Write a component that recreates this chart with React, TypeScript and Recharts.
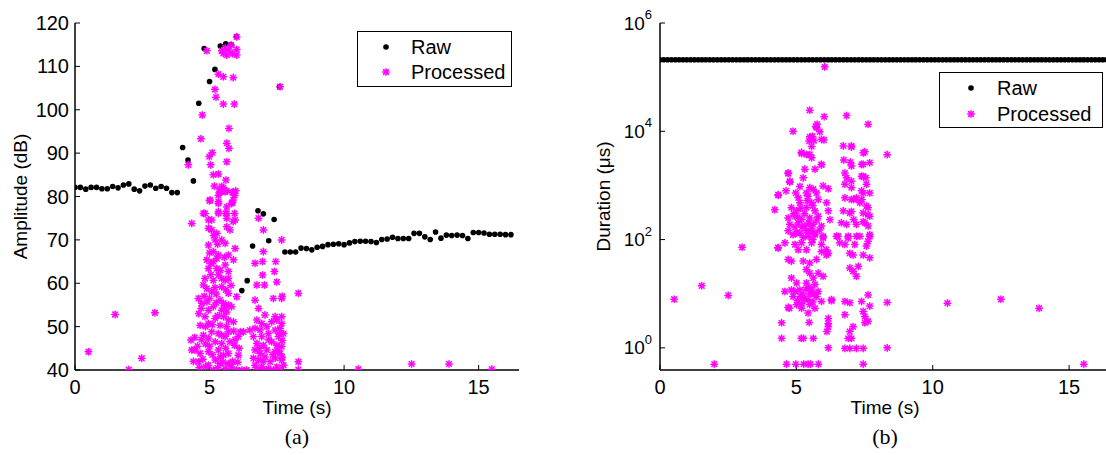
import { Label, Legend, Scatter, ScatterChart, XAxis, YAxis } from "recharts"

// (a) amplitude, [time s, amplitude dB]
const RAW_AMPLITUDE: [number, number][] = [
  [0, 82.1], [0.2, 82.1], [0.4, 81.7], [0.6, 82.1], [0.8, 82.1], [1.0, 81.8], [1.2, 81.8],
  [1.4, 82.3], [1.6, 82.0], [1.8, 82.65], [2.0, 82.9], [2.2, 81.7], [2.4, 81.3], [2.6, 82.4],
  [2.8, 82.65], [3.0, 81.9], [3.2, 82.3], [3.4, 81.9], [3.6, 80.9], [3.8, 80.9],
  [4.0, 91.3], [4.2, 88.4], [4.4, 83.6], [4.6, 101.5], [4.8, 114.1], [5.0, 106.5], [5.2, 109.3],
  [5.4, 114.7], [5.6, 115.2], [5.8, 115.0], [6.0, 116.9], [6.2, 58.3], [6.4, 60.6], [6.6, 68.6],
  [6.8, 76.7], [7.0, 76.0], [7.2, 69.8], [7.4, 74.7], [7.6, 105.3], [7.8, 67.2], [8.0, 67.2],
  [8.2, 67.2], [8.4, 68.1], [8.6, 68.0], [8.8, 67.7], [9.0, 68.3], [9.2, 68.5], [9.4, 68.9],
  [9.6, 69.0], [9.8, 69.1], [10.0, 68.9], [10.2, 69.3], [10.4, 69.6], [10.6, 69.7], [10.8, 69.7],
  [11.0, 69.6], [11.2, 69.4], [11.4, 70.1], [11.6, 70.2], [11.8, 70.6], [12.0, 70.3], [12.2, 70.3],
  [12.4, 70.3], [12.6, 71.5], [12.8, 71.5], [13.0, 70.7], [13.2, 70.1], [13.4, 71.8], [13.6, 70.4],
  [13.8, 71.1], [14.0, 71.0], [14.2, 71.1], [14.4, 71.0], [14.6, 70.3], [14.8, 71.7], [15.0, 71.7],
  [15.2, 71.6], [15.4, 71.3], [15.6, 71.3], [15.8, 71.3], [16.0, 71.2], [16.2, 71.2],
]

const PROCESSED_AMPLITUDE: [number, number][] = [
  [0.5, 44.2], [1.49, 52.8], [2.0, 40.1], [2.48, 42.7], [2.97, 53.2], [8.3, 57.7], [8.3, 41.9],
  [8.3, 40.1], [10.53, 40.2], [12.51, 41.4], [13.9, 41.4], [15.49, 40.2], [7.62, 105.3], [6.01, 116.8],
  [4.9, 113.6], [5.45, 113.6], [5.58, 114.2], [5.72, 113.8], [5.8, 114.9], [6.01, 113.9], [5.51, 113.0],
  [5.64, 112.6], [5.85, 112.9], [6.01, 112.6], [5.33, 108.2], [5.51, 107.6], [5.88, 107.4], [5.2, 104.7],
  [5.24, 102.9], [5.51, 101.3], [5.92, 101.3], [4.73, 98.8], [5.72, 95.7], [4.68, 93.3], [5.64, 92.3],
  [5.72, 91.1], [5.1, 90.1], [4.99, 89.2], [5.64, 88.0], [4.21, 87.3], [5.04, 87.3], [5.33, 85.2],
  [5.61, 83.8], [5.18, 82.4], [5.51, 82.0], [5.45, 81.1], [5.64, 81.3], [5.85, 80.9], [5.97, 81.3],
  [5.02, 79.2], [5.33, 80.3], [5.88, 79.2], [5.82, 78.4], [4.34, 73.8], [4.77, 76.1], [4.96, 74.6],
  [5.33, 76.1], [5.64, 76.1], [5.64, 75.0], [5.88, 74.2], [5.33, 78.8], [5.64, 77.6], [5.45, 82.3],
  [5.14, 85.0], [5.39, 81.5], [5.39, 81.1], [5.58, 81.1], [5.89, 81.1], [5.93, 80.3], [5.0, 79.0],
  [5.33, 78.4], [5.85, 78.6], [4.83, 76.1], [5.08, 74.6], [5.33, 76.5], [5.6, 76.1], [5.93, 76.1],
  [5.95, 74.6], [4.96, 72.7], [5.08, 72.3], [5.27, 71.5], [5.64, 73.0], [5.76, 72.3], [4.96, 68.8],
  [5.21, 70.0], [5.45, 70.0], [5.58, 69.2], [5.95, 68.0], [5.14, 67.3], [5.33, 66.5], [5.7, 66.5],
  [4.9, 65.4], [5.14, 65.0], [5.27, 65.7], [4.96, 63.4], [5.27, 63.4], [5.58, 64.2], [5.7, 62.7],
  [5.89, 65.4], [4.83, 61.1], [5.14, 60.7], [5.45, 61.1], [5.58, 60.7], [5.7, 61.1], [5.33, 61.9],
  [4.77, 59.6], [4.9, 58.8], [5.08, 58.0], [5.45, 59.2], [5.7, 57.7], [6.01, 56.9], [4.59, 56.5],
  [4.71, 55.4], [4.9, 55.7], [5.39, 56.1], [5.52, 55.4], [5.7, 55.0], [4.69, 54.2], [4.96, 53.8],
  [5.14, 54.6], [5.45, 53.8], [5.64, 53.4], [5.82, 54.6], [4.83, 52.3], [5.21, 51.9], [5.52, 52.3],
  [5.7, 51.5], [4.65, 50.3], [4.96, 50.7], [5.39, 50.3], [5.64, 50.0], [5.89, 51.1], [5.08, 48.8],
  [5.33, 48.4], [5.7, 48.8], [4.77, 48.0], [5.58, 47.7], [6.14, 48.8], [4.31, 46.9], [4.96, 47.3],
  [5.21, 46.5], [5.45, 46.1], [5.76, 46.5], [5.93, 45.7], [4.46, 44.6], [4.65, 43.8], [4.96, 44.2],
  [5.33, 44.6], [5.52, 43.4], [5.7, 43.8], [6.07, 43.4], [4.59, 41.9], [4.96, 41.1], [5.21, 42.3],
  [5.39, 41.5], [5.7, 41.5], [5.82, 40.7], [6.2, 40.0], [5.58, 40.3], [5.14, 40.0], [6.01, 40.0],
  [4.34, 44.6], [4.8, 57.0], [5.0, 56.5], [5.25, 57.5], [5.6, 58.5], [5.05, 62.0], [5.4, 63.0],
  [5.55, 66.0], [5.0, 67.0], [5.3, 69.0], [5.15, 71.0], [4.85, 50.0], [5.1, 50.5], [5.3, 52.5],
  [5.45, 48.0], [5.9, 49.0], [5.0, 45.5], [5.1, 43.5], [5.4, 43.0], [5.6, 45.0], [5.85, 42.0],
  [4.75, 42.5], [5.3, 40.5], [5.5, 41.8], [4.85, 46.0], [5.55, 54.5], [5.25, 55.5], [4.6, 53.0],
  [5.8, 59.5], [5.2, 59.0], [5.05, 64.5], [4.45, 47.5], [4.55, 45.5], [4.7, 47.0], [4.4, 42.0],
  [4.62, 40.5], [4.85, 40.8], [6.1, 45.0], [5.95, 47.0], [6.05, 41.8],
  [6.82, 75.0], [7.0, 72.3], [7.68, 70.0], [7.0, 67.3], [6.69, 64.6], [6.97, 65.0], [7.46, 65.0],
  [7.41, 62.7], [6.97, 61.9], [7.5, 60.3], [6.76, 59.6], [7.04, 59.6], [6.69, 56.1], [7.37, 56.5],
  [7.68, 56.5], [6.82, 54.2], [7.06, 52.7], [7.44, 52.3], [7.68, 52.3], [6.76, 51.5], [6.94, 50.7],
  [7.31, 51.1], [7.5, 51.5], [7.68, 50.7], [6.69, 49.6], [6.88, 49.2], [7.13, 50.0], [7.44, 49.2],
  [7.62, 49.6], [6.63, 47.7], [6.94, 47.7], [7.19, 48.4], [7.56, 47.7], [7.75, 48.4], [6.76, 46.1],
  [7.0, 45.7], [7.31, 46.5], [7.5, 45.7], [7.68, 45.4], [6.69, 44.6], [6.88, 43.8], [7.13, 44.6],
  [7.44, 44.2], [7.62, 43.8], [6.63, 42.7], [6.82, 42.3], [7.06, 43.0], [7.25, 41.9], [7.44, 42.7],
  [7.68, 42.3], [6.69, 41.1], [6.94, 40.7], [7.19, 40.3], [7.5, 40.7], [7.75, 41.1], [6.38, 40.0],
  [6.76, 40.0], [7.06, 40.0], [7.37, 40.0], [7.62, 40.0], [6.26, 48.8], [6.07, 47.7], [6.5, 49.2],
  [7.7, 57.0], [7.6, 48.4], [7.7, 46.8], [7.55, 44.5], [7.35, 43.5], [7.0, 42.0], [6.85, 45.0],
  [7.2, 47.0], [7.7, 43.0],
]

// (b) duration, [time s, duration us]
const RAW_DURATION_US = 2.1e5
const RAW_DURATION_TIME = [
  0, 0.14, 0.28, 0.42, 0.56, 0.7, 0.84, 0.98, 1.12, 1.26, 1.4, 1.54, 1.68, 1.82, 1.96, 2.1, 2.24,
  2.38, 2.52, 2.66, 2.8, 2.94, 3.08, 3.22, 3.36, 3.5, 3.64, 3.78, 3.92, 4.06, 4.2, 4.34, 4.48, 4.62,
  4.76, 4.9, 5.04, 5.18, 5.32, 5.46, 5.6, 5.74, 5.88, 6.02, 6.16, 6.3, 6.44, 6.58, 6.72, 6.86, 7.0,
  7.14, 7.28, 7.42, 7.56, 7.7, 7.84, 7.98, 8.12, 8.26, 8.4, 8.54, 8.68, 8.82, 8.96, 9.1, 9.24, 9.38,
  9.52, 9.66, 9.8, 9.94, 10.08, 10.22, 10.36, 10.5, 10.64, 10.78, 10.92, 11.06, 11.2, 11.34, 11.48,
  11.62, 11.76, 11.9, 12.04, 12.18, 12.32, 12.46, 12.6, 12.74, 12.88, 13.02, 13.16, 13.3, 13.44,
  13.58, 13.72, 13.86, 14.0, 14.14, 14.28, 14.42, 14.56, 14.7, 14.84, 14.98, 15.12, 15.26, 15.4,
  15.54, 15.68, 15.82, 15.96, 16.1, 16.24, 16.38,
]

const PROCESSED_DURATION: [number, number][] = [
  [0.52, 7.9], [1.53, 14], [2.5, 9.3], [3.01, 72], [1.99, 0.5], [4.64, 0.5], [4.98, 0.5], [5.27, 0.5],
  [5.43, 0.5], [5.52, 0.5], [5.81, 0.5], [4.33, 70], [4.46, 2.9], [4.46, 1.5], [5.18, 1.5], [5.26, 1.5],
  [5.62, 1.5], [5.47, 2.95], [6.17, 3.5], [6.17, 2.8], [6.17, 2.45], [6.12, 2.0], [6.17, 1.0],
  [6.29, 7.4], [4.7, 5.6], [6.1, 65], [6.1, 52], [7.45, 0.5], [8.33, 6.9], [8.33, 1.0], [10.54, 6.7],
  [12.5, 7.9], [13.9, 5.4], [15.54, 0.5], [6.04, 1.55e5],
  [7.63, 13500], [8.33, 3700], [7.02, 5370], [7.45, 4000], [7.45, 2450], [7.69, 2630], [7.02, 2290],
  [7.45, 1480], [7.69, 724], [7.45, 724], [7.02, 1200], [7.1, 550], [7.4, 550], [7.63, 389],
  [7.45, 309], [7.69, 269], [7.02, 331], [7.1, 234], [7.45, 214], [7.63, 178],
  [5.49, 24500], [6.02, 18600], [6.84, 19500], [4.88, 10000], [5.74, 11700], [5.49, 7900],
  [5.92, 7100], [5.19, 3890], [5.49, 3720], [5.92, 2400], [4.7, 1660], [4.33, 676], [4.21, 355],
  [4.76, 1150], [6.72, 5370], [7.02, 5130],
  [5.76, 13500], [5.71, 12300], [5.86, 9800], [5.59, 8100], [5.47, 6600], [5.64, 6760], [6.01, 6900],
  [5.56, 5250], [7.51, 4170], [5.19, 4070], [5.37, 3720], [5.56, 3240], [6.74, 2950], [6.98, 2690],
  [7.39, 2450], [5.92, 2450], [5.68, 2000], [5.31, 2000], [4.7, 1700], [6.78, 1700], [6.84, 1380],
  [7.39, 1480], [7.55, 1380], [5.25, 1380], [4.76, 1200], [6.78, 1050], [7.02, 910], [7.57, 1050],
  [5.13, 955], [5.49, 910], [5.62, 850], [5.98, 980], [6.17, 870], [4.62, 794], [4.98, 724],
  [5.37, 724], [5.74, 724], [7.39, 794], [4.34, 660], [5.07, 590], [5.43, 630], [5.8, 550],
  [6.78, 590], [7.02, 550], [7.2, 590], [5.13, 480], [5.56, 480], [6.11, 480], [7.33, 480],
  [7.57, 417], [4.82, 389], [5.01, 339], [5.37, 389], [5.68, 339], [6.17, 339], [6.72, 339],
  [6.96, 309], [4.7, 251], [4.95, 269], [5.19, 234], [5.49, 251], [5.8, 269], [6.23, 234], [7.63, 288],
  [4.76, 191], [5.07, 204], [5.31, 178], [5.62, 191], [5.92, 178], [6.65, 204], [6.84, 191],
  [7.2, 191], [7.51, 204], [4.7, 145], [5.01, 132], [5.37, 145], [5.68, 123], [5.98, 115],
  [6.53, 115], [6.9, 107], [7.2, 115], [7.69, 115],
  [4.88, 123], [5.13, 132], [5.43, 115], [5.68, 132], [5.98, 107], [6.47, 115], [6.9, 115],
  [7.33, 115], [7.69, 123], [4.58, 87], [4.95, 81], [5.19, 87], [5.56, 87], [5.92, 81], [6.59, 87],
  [6.78, 81], [7.14, 81], [7.57, 76], [7.63, 93], [4.33, 71], [5.07, 65], [5.37, 65], [5.92, 60],
  [6.96, 56], [7.08, 52], [7.45, 52], [7.69, 46], [4.7, 43], [4.82, 40], [6.17, 56], [5.25, 40],
  [5.49, 37], [5.74, 43], [5.37, 28], [5.49, 24], [5.8, 24], [6.96, 30], [7.08, 26], [7.27, 32],
  [5.98, 21], [5.62, 19.5], [7.2, 21], [4.82, 19.5], [5.01, 15.8], [5.37, 15.8], [5.68, 14.8],
  [4.58, 11], [4.82, 11.7], [5.13, 11.7], [5.56, 11.7], [5.8, 11], [4.88, 8.9], [5.25, 9.5],
  [5.43, 7.8], [5.74, 8.9], [5.92, 7.2], [6.29, 7.8], [7.63, 9.5], [5.01, 6.3], [5.19, 5.4],
  [5.49, 6.3], [5.68, 5.4], [6.78, 7.2], [6.96, 6.8], [7.39, 7.2], [7.69, 5.9], [4.74, 5.4],
  [5.43, 4.4], [7.45, 4.7], [6.78, 4.1], [7.51, 3.8], [7.63, 3.1], [7.51, 2.9], [7.08, 2.45],
  [6.96, 2.0], [6.9, 1.5], [7.02, 1.5], [6.78, 0.98], [6.96, 0.98], [7.2, 0.98], [7.45, 0.98],
  [5.3, 300], [5.45, 200], [5.55, 160], [5.2, 170], [5.05, 260], [5.6, 420], [5.75, 230], [5.4, 520],
  [5.15, 380], [4.9, 300], [5.5, 140], [5.85, 150], [5.25, 110], [5.6, 100], [4.95, 170],
  [5.15, 9], [5.3, 8], [5.5, 10], [5.35, 12], [5.6, 7], [5.05, 7.5], [5.45, 13], [5.2, 6.5],
  [5.65, 9.8], [4.95, 11],
]

const TIME_TICKS = [0, 5, 10, 15]
const AMP_TICKS = [40, 50, 60, 70, 80, 90, 100, 110, 120]
const DUR_TICKS = [1, 100, 10000, 1000000]

const FONT = "'Liberation Sans', Arial, sans-serif"
const SERIF = "'Liberation Serif', 'Times New Roman', serif"
const MAGENTA = "#ff00ff"

const toPoints = (rows: [number, number][]) => rows.map(([t, v]) => ({ t, v }))

function RawDot({ cx, cy }: any) {
  return <circle cx={cx} cy={cy} r={2.8} fill="#000" />
}

function ProcMark({ cx, cy }: any) {
  const r = 3.3
  const d = 2.4
  return (
    <g stroke={MAGENTA} strokeWidth={1.5} strokeLinecap="round">
      <line x1={cx - r} y1={cy} x2={cx + r} y2={cy} />
      <line x1={cx} y1={cy - r} x2={cx} y2={cy + r} />
      <line x1={cx - d} y1={cy - d} x2={cx + d} y2={cy + d} />
      <line x1={cx - d} y1={cy + d} x2={cx + d} y2={cy - d} />
    </g>
  )
}

function LegendBox({ width, markerX, textX, rows }: { width: number; markerX: number; textX: number; rows: number[] }) {
  return (
    <svg width={width} height={56} style={{ display: "block" }}>
      <rect x={0.5} y={0.5} width={width - 1} height={55} fill="#fff" stroke="#000" />
      <RawDot cx={markerX} cy={rows[0]} />
      <ProcMark cx={markerX} cy={rows[1]} />
      <text x={textX} y={rows[0]} dominantBaseline="central" fontSize={20} fontFamily={FONT}>
        Raw
      </text>
      <text x={textX} y={rows[1]} dominantBaseline="central" fontSize={20} fontFamily={FONT}>
        Processed
      </text>
    </svg>
  )
}

function LogTick({ x, y, payload }: any) {
  const exp = Math.round(Math.log10(payload.value))
  return (
    <text x={x} y={y} textAnchor="end" dominantBaseline="central" fontSize={19} fontFamily={FONT} fill="#000">
      10
      <tspan dy={-9} fontSize={13}>
        {exp}
      </tspan>
    </text>
  )
}

function yTitle(text: string, dx: number) {
  return ({ viewBox }: any) => {
    const x = viewBox.x + dx
    const y = viewBox.y + viewBox.height / 2
    return (
      <text
        x={x}
        y={y}
        transform={`rotate(-90, ${x}, ${y})`}
        textAnchor="middle"
        dominantBaseline="central"
        fontSize={19}
        fontFamily={FONT}
        fill="#000"
      >
        {text}
      </text>
    )
  }
}

const axisLine = { stroke: "#000", strokeWidth: 1.5 }
const tickLine = { stroke: "#000" }
const tickFont = { fontSize: 20, fill: "#000", fontFamily: FONT }

export default function App() {
  const rawAmp = toPoints(RAW_AMPLITUDE)
  const procAmp = toPoints(PROCESSED_AMPLITUDE)
  const rawDur = RAW_DURATION_TIME.map((t) => ({ t, v: RAW_DURATION_US }))
  const procDur = toPoints(PROCESSED_DURATION)

  return (
    <div style={{ position: "absolute", left: 0, top: 0, width: 1106, height: 455, overflow: "hidden", background: "#fff" }}>
      <div style={{ position: "absolute", left: 0, top: 0 }}>
        <ScatterChart width={560} height={455} margin={{ top: 23, right: 41, bottom: 55, left: 0 }}>
          <XAxis
            type="number"
            dataKey="t"
            domain={[0, 16.5]}
            ticks={TIME_TICKS}
            allowDataOverflow
            height={30}
            axisLine={axisLine}
            tickLine={tickLine}
            tickSize={-5}
            tickMargin={15}
            tick={tickFont}
          >
            <Label value="Time (s)" position="bottom" offset={1} fontSize={19} fontFamily={FONT} fill="#000" />
            <Label value="(a)" position="bottom" offset={28} fontSize={22} fontFamily={SERIF} fill="#000" />
          </XAxis>
          <XAxis
            xAxisId="top"
            orientation="top"
            type="number"
            dataKey="t"
            domain={[0, 16.5]}
            ticks={TIME_TICKS}
            allowDataOverflow
            height={0}
            axisLine={axisLine}
            tickLine={tickLine}
            tickSize={-4}
            tick={false}
          />
          <YAxis
            type="number"
            dataKey="v"
            domain={[40, 120]}
            ticks={AMP_TICKS}
            allowDataOverflow
            width={75}
            axisLine={axisLine}
            tickLine={tickLine}
            tickSize={-5}
            tickMargin={11}
            tick={tickFont}
          >
            <Label content={yTitle("Amplitude (dB)", 20)} />
          </YAxis>
          <YAxis
            yAxisId="right"
            orientation="right"
            type="number"
            dataKey="v"
            domain={[40, 120]}
            ticks={AMP_TICKS}
            allowDataOverflow
            width={0}
            axisLine={axisLine}
            tickLine={tickLine}
            tickSize={-5}
            tick={false}
          />
          <Scatter name="Raw" data={rawAmp} shape={RawDot} isAnimationActive={false} />
          <Scatter name="Processed" data={procAmp} shape={ProcMark} isAnimationActive={false} />
          <Legend
            layout="vertical"
            align="center"
            verticalAlign="middle"
            wrapperStyle={{ left: 357, top: 31, width: 155, height: 56 }}
            content={() => <LegendBox width={155} markerX={29} textX={54} rows={[16, 41]} />}
          />
        </ScatterChart>
      </div>

      <div style={{ position: "absolute", left: 560, top: 0 }}>
        <ScatterChart width={560} height={455} margin={{ top: 23, right: 10, bottom: 55, left: 0 }}>
          <XAxis
            type="number"
            dataKey="t"
            domain={[0, 16.5]}
            ticks={TIME_TICKS}
            allowDataOverflow
            height={30}
            axisLine={axisLine}
            tickLine={tickLine}
            tickSize={-5}
            tickMargin={15}
            tick={tickFont}
          >
            <Label value="Time (s)" position="bottom" offset={1} fontSize={19} fontFamily={FONT} fill="#000" />
            <Label value="(b)" position="bottom" offset={28} fontSize={22} fontFamily={SERIF} fill="#000" />
          </XAxis>
          <XAxis
            xAxisId="top"
            orientation="top"
            type="number"
            dataKey="t"
            domain={[0, 16.5]}
            ticks={TIME_TICKS}
            allowDataOverflow
            height={0}
            axisLine={axisLine}
            tickLine={tickLine}
            tickSize={-4}
            tick={false}
          />
          <YAxis
            type="number"
            dataKey="v"
            scale="log"
            domain={[0.39, 1000000]}
            ticks={DUR_TICKS}
            allowDataOverflow
            width={100}
            axisLine={axisLine}
            tickLine={tickLine}
            tickSize={-5}
            tickMargin={13}
            tick={<LogTick />}
          >
            <Label content={yTitle("Duration (\u03bcs)", 43)} />
          </YAxis>
          <Scatter name="Raw" data={rawDur} shape={RawDot} isAnimationActive={false} />
          <Scatter name="Processed" data={procDur} shape={ProcMark} isAnimationActive={false} />
          <Legend
            layout="vertical"
            align="center"
            verticalAlign="middle"
            wrapperStyle={{ left: 379, top: 72, width: 164, height: 56 }}
            content={() => <LegendBox width={164} markerX={32} textX={58} rows={[16, 42]} />}
          />
        </ScatterChart>
      </div>
    </div>
  )
}
